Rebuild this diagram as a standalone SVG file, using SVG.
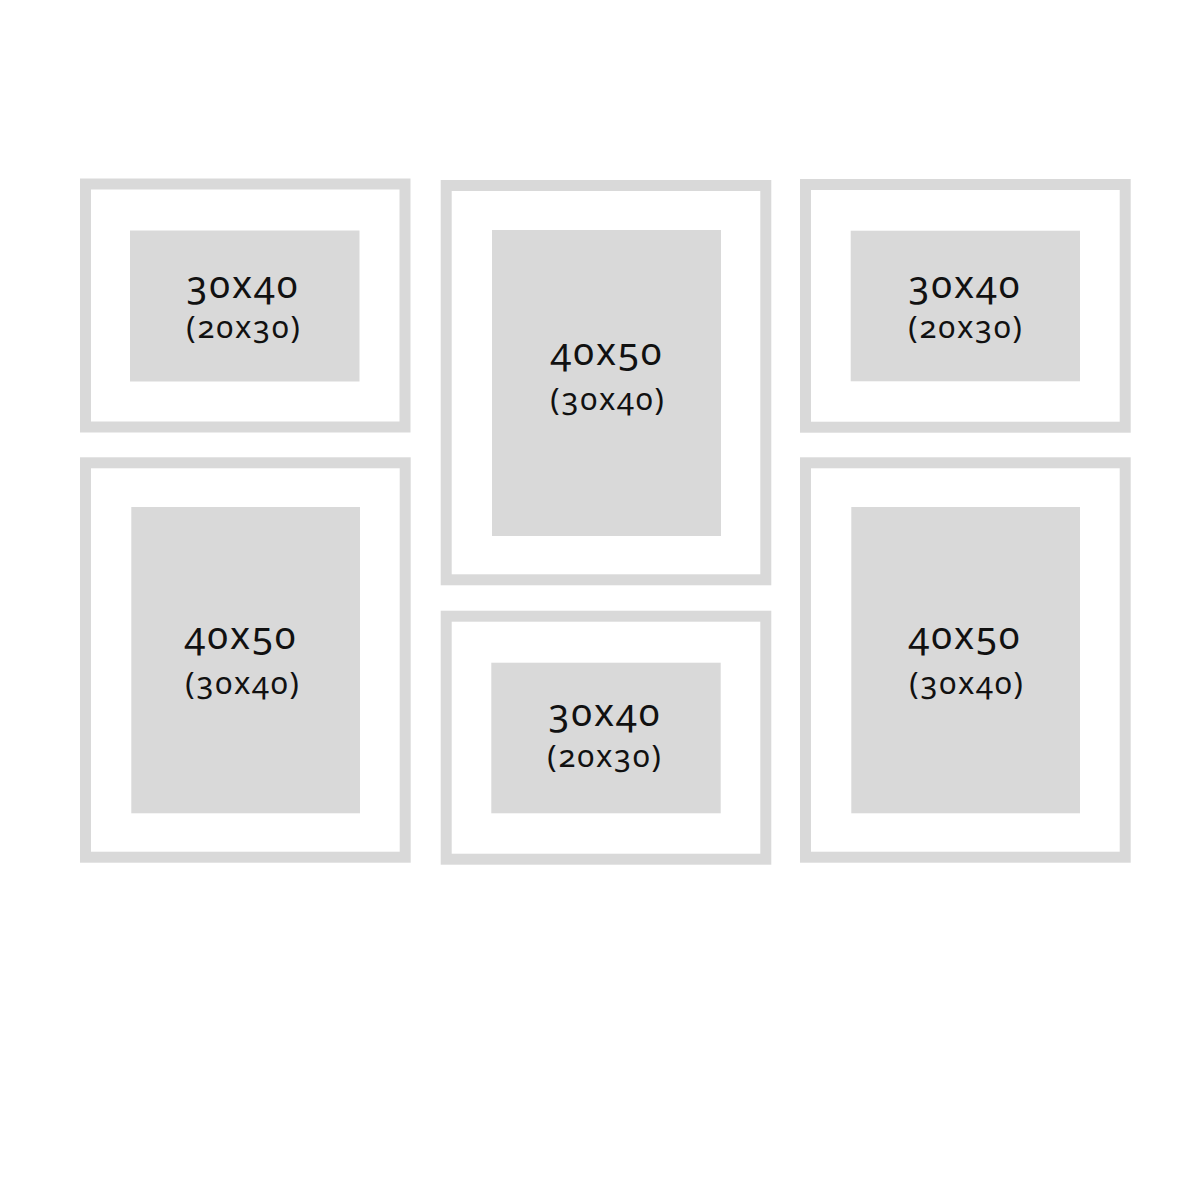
<svg xmlns="http://www.w3.org/2000/svg" width="1200" height="1200" viewBox="0 0 1200 1200">
<style>
.frame{fill:none;stroke:#d9d9d9;stroke-width:11}
.photo{fill:#d9d9d9}
.t1{font-family:"Noto Sans","Open Sans",sans-serif;font-size:38px;letter-spacing:2px;fill:#111;text-anchor:middle;font-variant-numeric:oldstyle-nums}
.t2{font-family:"Noto Sans","Open Sans",sans-serif;font-size:31px;letter-spacing:1.8px;fill:#111;text-anchor:middle;font-variant-numeric:oldstyle-nums}
</style>
<rect width="1200" height="1200" fill="#ffffff"/>
<g id="frame-top-left">
<rect class="frame" x="85.5" y="184" width="319.5" height="243"/>
<rect class="photo" x="130" y="230.5" width="229.5" height="151"/>
<text class="t1" x="243" y="298">30x40</text>
<text class="t2" x="244" y="338">(20x30)</text>
</g>
<g id="frame-top-middle">
<rect class="frame" x="446.2" y="185.5" width="319.6" height="394.3"/>
<rect class="photo" x="492" y="230" width="229" height="306"/>
<text class="t1" x="607" y="365">40x50</text>
<text class="t2" x="608" y="410">(30x40)</text>
</g>
<g id="frame-top-right">
<rect class="frame" x="805.5" y="184.5" width="319.7" height="242.7"/>
<rect class="photo" x="850.7" y="230.7" width="229.3" height="150.6"/>
<text class="t1" x="965" y="298">30x40</text>
<text class="t2" x="966" y="338">(20x30)</text>
</g>
<g id="frame-bottom-left">
<rect class="frame" x="85.5" y="462.8" width="319.7" height="394.4"/>
<rect class="photo" x="131.3" y="507" width="228.7" height="306.3"/>
<text class="t1" x="241" y="649">40x50</text>
<text class="t2" x="243" y="694">(30x40)</text>
</g>
<g id="frame-bottom-middle">
<rect class="frame" x="446.2" y="616.2" width="319.6" height="243"/>
<rect class="photo" x="491.3" y="662.7" width="229.4" height="150.6"/>
<text class="t1" x="605" y="726">30x40</text>
<text class="t2" x="605" y="767">(20x30)</text>
</g>
<g id="frame-bottom-right">
<rect class="frame" x="805.5" y="462.8" width="319.7" height="394.4"/>
<rect class="photo" x="851.3" y="507" width="228.7" height="306.3"/>
<text class="t1" x="965" y="649">40x50</text>
<text class="t2" x="967" y="694">(30x40)</text>
</g>
<g id="connectors"></g>
</svg>
